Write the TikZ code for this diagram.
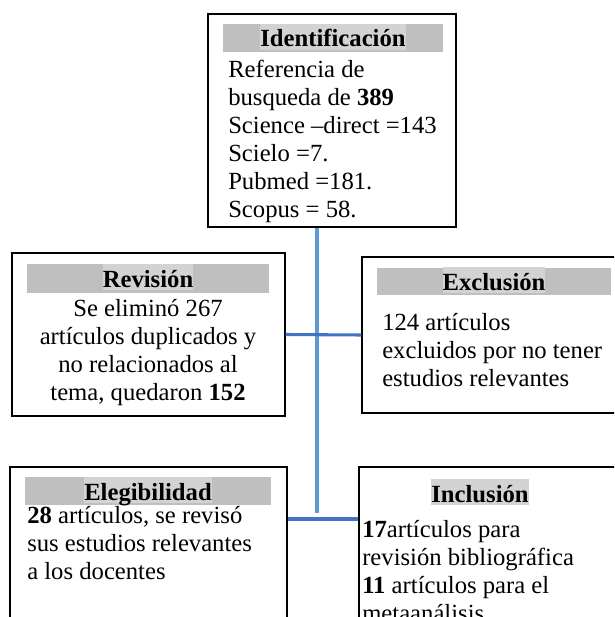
\documentclass[tikz,border=0pt]{standalone}
\usepackage{fontspec}
\setmainfont{Liberation Serif}
\usetikzlibrary{fit}
\definecolor{barGray}{HTML}{BFBFBF}
\definecolor{headGray}{HTML}{D3D3D3}
\definecolor{spineBlue}{HTML}{5B9BD5}
\definecolor{linkBlue}{HTML}{4472C4}
\tikzset{
  box/.style={draw=black,line width=1.1pt,inner sep=0pt},
  head/.style={font=\fontsize{18.5}{21}\selectfont\bfseries,fill=headGray,inner sep=0pt,
    text height=17pt,text depth=2pt,anchor=base},
  body/.style={font=\fontsize{18.5}{21}\selectfont,inner sep=0pt,align=left,anchor=north west},
  spine/.style={draw=spineBlue,line width=2.3pt},
  link/.style={draw=linkBlue,line width=2.3pt}
}
\begin{document}
\begin{tikzpicture}[x=0.75pt,y=-0.75pt]
	\useasboundingbox (0,0) rectangle (614,617);
	\clip (0,0) rectangle (614,617);

	\node[box,fit={(208,14) (456,227)}] (ident) {};
	\fill[barGray] (223,24) rectangle (443,52);
	\node[head] (identh) at (333,47) {Identificación};
	\node[body] (identt) at (228,60) {Referencia de\\busqueda de \textbf{389}\\Science –direct =143\\Scielo =7.\\Pubmed =181.\\Scopus = 58.};

	\node[box,fit={(12,253) (285,416)}] (rev) {};
	\fill[barGray] (27,264) rectangle (269,293);
	\node[head] (revh) at (148,287) {Revisión};
	\node[body,align=center,anchor=north] (revt) at (148,299) {Se eliminó 267\\artículos duplicados y\\no relacionados al\\tema, quedaron \textbf{152}};

	\node[box,fit={(362,257) (640,413)}] (excl) {};
	\fill[barGray] (377,268) rectangle (611,295);
	\node[head] (exclh) at (494,290) {Exclusión};
	\node[body] (exclt) at (382,313) {124 artículos\\excluidos por no tener\\estudios relevantes};

	\node[box,fit={(10,467) (287,640)}] (eleg) {};
	\fill[barGray] (25,477) rectangle (271,505);
	\node[head] (elegh) at (148,500) {Elegibilidad};
	\node[body] (elegt) at (27,506) {\textbf{28} artículos, se revisó\\sus estudios relevantes\\a los docentes};

	\node[box,fit={(359,467) (640,640)}] (incl) {};
	\node[head] (inclh) at (480,502) {Inclusión};
	\node[body] (inclt) at (362,520) {\textbf{17}artículos para\\revisión bibliográfica\\\textbf{11} artículos para el\\metaanálisis};

	\coordinate (spineend) at (317,513);
	\coordinate (fork) at (317,519);
	\draw[spine] (ident.south -| spineend) -- (spineend);
	\draw[link] (rev.east) -- (excl.west);
	\draw[link] (eleg.east |- fork) -- (incl.west |- fork);
\end{tikzpicture}
\end{document}
